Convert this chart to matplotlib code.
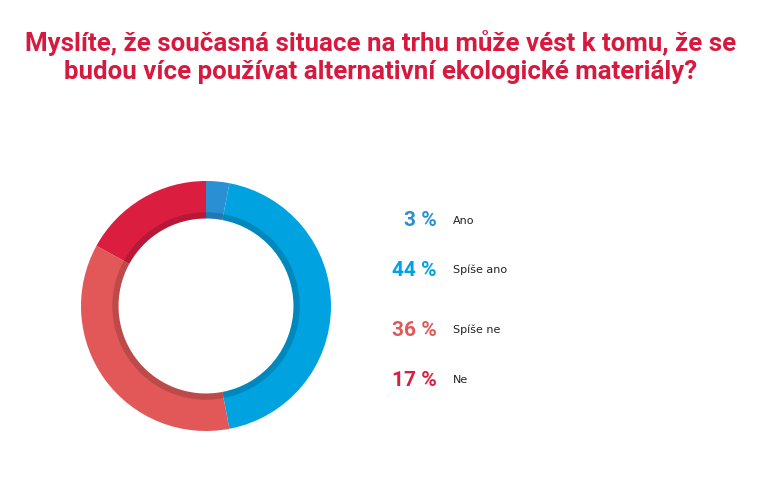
import numpy as np
import matplotlib.pyplot as plt

W, H = 763, 483

title = "Myslíte, že současná situace na trhu může vést k tomu, že se\nbudou více používat alternativní ekologické materiály?"
labels = ["Ano", "Spíše ano", "Spíše ne", "Ne"]
values = [3, 44, 36, 17]
colors = ["#2a8fd3", "#00a3e0", "#e25858", "#db1d40"]

fig = plt.figure(figsize=(W / 100, H / 100), dpi=100)
fig.patch.set_facecolor("white")

# pie axes: center (206, 306) px from top, radius 125 px
cx, cy, r = 206, 306, 125
side = 2.08 * r
ax = fig.add_axes([(cx - side / 2) / W, (H - cy - side / 2) / H, side / W, side / H])
ax.pie(values, colors=colors, startangle=90, counterclock=False, radius=1.0,
       wedgeprops=dict(width=0.30, edgecolor="none"))
# inner shadow band
ax.pie([1], colors=["black"], radius=0.75,
       wedgeprops=dict(width=0.05, edgecolor="none", alpha=0.16))
ax.set_xlim(-1.04, 1.04)
ax.set_ylim(-1.04, 1.04)
ax.set_aspect("equal")
ax.axis("off")

fig.text(381 / W, 1 - 57 / H, title, ha="center", va="center", color="#d8193f",
         fontsize=18.6, fontweight="bold", family="Roboto", linespacing=1.25)

ys = [221, 270, 330, 380]
for lab, v, c, y in zip(labels, values, colors, ys):
    fig.text(437 / W, 1 - y / H, f"{v} %", ha="right", va="center", color=c,
             fontsize=15, fontweight="bold", family="Roboto")
    fig.text(453 / W, 1 - y / H, lab, ha="left", va="center", color="#222222",
             fontsize=8, family="DejaVu Sans")

fig.savefig("out.png", dpi=100)
